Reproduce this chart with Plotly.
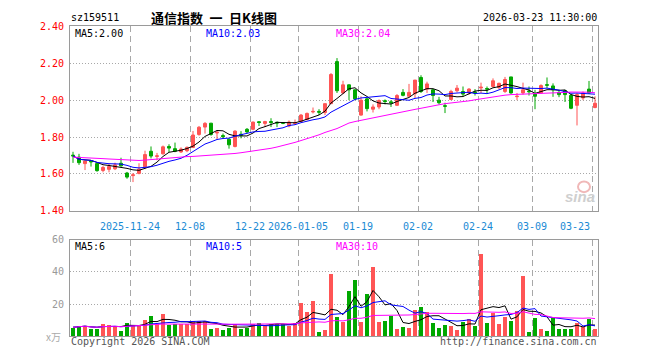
import pandas as pd
import plotly.graph_objects as go

# ---------------- data ----------------
holidays = ["2026-01-01", "2026-01-02", "2026-02-16", "2026-02-17", "2026-02-18",
            "2026-02-19", "2026-02-20", "2026-02-23"]
dates = [d.strftime("%Y-%m-%d") for d in pd.bdate_range("2025-11-10", "2026-03-23")
         if d.strftime("%Y-%m-%d") not in holidays]

opens = [1.702, 1.691, 1.656, 1.670, 1.656, 1.619, 1.625, 1.628, 1.658, 1.605,
         1.591, 1.603, 1.639, 1.723, 1.695, 1.709, 1.749, 1.737, 1.719, 1.726,
         1.744, 1.814, 1.854, 1.875, 1.822, 1.808, 1.788, 1.749, 1.815, 1.842,
         1.842, 1.883, 1.874, 1.884, 1.880, 1.877, 1.860, 1.874, 1.884, 1.895,
         1.936, 1.939, 1.933, 1.981, 2.209, 2.039, 2.083, 2.056, 1.919, 2.007,
         1.951, 1.963, 1.997, 1.991, 1.972, 2.042, 2.021, 2.035, 2.123, 2.060,
         2.056, 2.000, 1.970, 2.004, 2.051, 2.047, 2.039, 2.044, 2.066, 2.063,
         2.074, 2.068, 2.047, 2.126, 2.019, 2.039, 2.049, 2.033, 2.039, 2.084,
         2.077, 2.042, 2.051, 2.026, 1.972, 2.012, 2.060, 1.960]
highs = [1.720, 1.709, 1.670, 1.675, 1.661, 1.644, 1.656, 1.661, 1.688, 1.611,
         1.605, 1.658, 1.726, 1.749, 1.714, 1.754, 1.761, 1.770, 1.744, 1.749,
         1.833, 1.860, 1.881, 1.877, 1.837, 1.819, 1.793, 1.837, 1.832, 1.849,
         1.884, 1.886, 1.888, 1.902, 1.884, 1.879, 1.890, 1.895, 1.925, 1.933,
         1.960, 1.951, 1.981, 2.147, 2.228, 2.105, 2.085, 2.058, 2.021, 2.012,
         1.977, 2.004, 2.004, 2.000, 2.033, 2.060, 2.088, 2.109, 2.135, 2.100,
         2.060, 2.018, 1.986, 2.056, 2.082, 2.074, 2.065, 2.060, 2.095, 2.074,
         2.118, 2.095, 2.126, 2.126, 2.039, 2.095, 2.074, 2.056, 2.086, 2.123,
         2.091, 2.056, 2.056, 2.033, 2.039, 2.047, 2.104, 2.021]
lows = [1.660, 1.649, 1.621, 1.640, 1.612, 1.609, 1.609, 1.621, 1.639, 1.574,
        1.556, 1.598, 1.626, 1.684, 1.674, 1.705, 1.719, 1.718, 1.714, 1.718,
        1.740, 1.807, 1.819, 1.807, 1.789, 1.793, 1.737, 1.744, 1.793, 1.819,
        1.837, 1.860, 1.854, 1.854, 1.854, 1.870, 1.853, 1.867, 1.880, 1.891,
        1.928, 1.919, 1.919, 1.981, 2.039, 2.033, 2.000, 2.000, 1.916, 1.939,
        1.933, 1.951, 1.977, 1.963, 1.968, 2.021, 2.021, 2.012, 2.039, 2.039,
        1.990, 1.977, 1.930, 2.000, 2.042, 2.021, 2.030, 2.025, 2.039, 2.035,
        2.068, 2.060, 2.039, 2.035, 2.000, 2.030, 2.025, 1.951, 2.035, 2.065,
        2.018, 2.016, 1.990, 1.951, 1.863, 2.000, 2.035, 1.956]
closes = [1.698, 1.661, 1.670, 1.666, 1.618, 1.635, 1.640, 1.649, 1.644, 1.583,
          1.595, 1.626, 1.705, 1.697, 1.698, 1.747, 1.740, 1.723, 1.735, 1.744,
          1.811, 1.853, 1.874, 1.814, 1.826, 1.802, 1.758, 1.832, 1.810, 1.828,
          1.881, 1.879, 1.884, 1.879, 1.876, 1.875, 1.881, 1.877, 1.919, 1.928,
          1.939, 1.935, 1.981, 2.139, 2.051, 2.083, 2.056, 2.007, 2.000, 1.954,
          1.963, 1.998, 1.993, 1.986, 2.025, 2.026, 2.042, 2.109, 2.047, 2.088,
          2.025, 1.986, 1.967, 2.047, 2.065, 2.033, 2.060, 2.040, 2.070, 2.060,
          2.105, 2.091, 2.112, 2.039, 2.021, 2.056, 2.046, 2.021, 2.079, 2.081,
          2.056, 2.030, 2.030, 1.956, 2.030, 2.039, 2.039, 1.983]
# MA30 of price as drawn on the chart (needs history before the window)
ma30_price = [1.691, 1.690, 1.688, 1.686, 1.685, 1.683, 1.681, 1.679, 1.677, 1.674,
              1.672, 1.673, 1.675, 1.678, 1.683, 1.686, 1.688, 1.690, 1.692, 1.694,
              1.695, 1.697, 1.698, 1.700, 1.702, 1.705, 1.708, 1.711, 1.715, 1.719,
              1.723, 1.728, 1.733, 1.739, 1.746, 1.753, 1.761, 1.771, 1.781, 1.790,
              1.800, 1.812, 1.825, 1.835, 1.846, 1.861, 1.876, 1.884, 1.891, 1.898,
              1.905, 1.912, 1.918, 1.925, 1.931, 1.938, 1.944, 1.950, 1.956, 1.961,
              1.968, 1.975, 1.981, 1.984, 1.988, 1.991, 1.996, 2.002, 2.007, 2.014,
              2.021, 2.024, 2.027, 2.030, 2.031, 2.032, 2.033, 2.034, 2.034, 2.035,
              2.037, 2.040, 2.042, 2.044, 2.045, 2.046, 2.043, 2.040]
volumes = [5.6, 6.6, 6.6, 4.6, 4.6, 8.0, 7.2, 6.6, 3.8, 8.6,
           7.2, 7.2, 10.4, 12.8, 8.0, 14.0, 7.0, 8.0, 8.0, 8.0,
           9.6, 9.6, 9.6, 5.0, 5.6, 4.4, 5.6, 8.0, 5.0, 5.6,
           8.0, 8.6, 6.4, 8.0, 7.6, 7.6, 6.6, 8.6, 21.2, 15.2,
           22.4, 3.2, 4.4, 38.6, 12.2, 8.8, 28.4, 35.0, 8.8, 26.6,
           43.4, 8.8, 9.8, 13.0, 5.0, 6.2, 5.6, 16.4, 18.2, 15.0,
           8.6, 5.6, 7.4, 6.8, 4.4, 9.2, 10.8, 6.8, 51.2, 8.6,
           14.6, 8.0, 12.2, 9.8, 15.8, 37.4, 2.6, 11.6, 5.0, 3.8,
           11.6, 4.6, 5.0, 4.6, 8.6, 6.2, 10.8, 4.6]

tick_dates = ["2025-11-24", "2025-12-08", "2025-12-22", "2026-01-05", "2026-01-19",
              "2026-02-02", "2026-02-24", "2026-03-09", "2026-03-23"]
tick_labels = ["2025-11-24", "12-08", "12-22", "2026-01-05", "01-19",
               "02-02", "02-24", "03-09", "03-23"]
price_ticks = [1.40, 1.60, 1.80, 2.00, 2.20, 2.40]
vol_ticks = [20, 40, 60]

code = "sz159511"
title = "通信指数\u2002一\u2002日K线图"
stamp = "2026-03-23 11:30:00"
price_ma_text = ["MA5:2.00", "MA10:2.03", "MA30:2.04"]
vol_ma_text = ["MA5:6", "MA10:5", "MA30:10"]

# ---------------- derived ----------------
n = len(dates)
x = list(range(n))
cs = pd.Series(closes)
ma5 = cs.rolling(5, min_periods=1).mean()
ma10 = cs.rolling(10, min_periods=1).mean()
vs = pd.Series(volumes)
vma5 = vs.rolling(5, min_periods=1).mean()
vma10 = vs.rolling(10, min_periods=1).mean()
vma30 = vs.rolling(30, min_periods=1).mean()

RED = "#ff5555"
GREEN = "#00a800"
MONO = "DejaVu Sans Mono"
GRID = "#a8a8a8"
FRAME = "#9a9a9a"
vol_colors = [RED if c >= o else GREEN for o, c in zip(opens, closes)]

W, H = 660, 360
def px(v):
    return v / W
def py(v):
    return 1 - v / H

tickpos = [dates.index(d) - 0.5 for d in tick_dates]

fig = go.Figure()
fig.add_trace(go.Candlestick(
    x=x, open=opens, high=highs, low=lows, close=closes,
    increasing=dict(line=dict(color=RED, width=1), fillcolor=RED),
    decreasing=dict(line=dict(color=GREEN, width=1), fillcolor=GREEN),
    whiskerwidth=0, xaxis="x", yaxis="y", showlegend=False, hoverinfo="skip"))
for ser, col in [(ma5, "#000000"), (ma10, "#0000ff"), (ma30_price, "#ff00ff")]:
    fig.add_trace(go.Scatter(x=x, y=list(ser), mode="lines", line=dict(color=col, width=1),
                             xaxis="x", yaxis="y", showlegend=False, hoverinfo="skip"))

fig.add_trace(go.Bar(x=x, y=volumes, marker=dict(color=vol_colors, line=dict(width=0)),
                     width=0.83, xaxis="x2", yaxis="y2", showlegend=False, hoverinfo="skip"))
for ser, col in [(vma5, "#000000"), (vma10, "#0000ff"), (vma30, "#ff00ff")]:
    fig.add_trace(go.Scatter(x=x, y=list(ser), mode="lines", line=dict(color=col, width=1),
                             xaxis="x2", yaxis="y2", showlegend=False, hoverinfo="skip"))

xdom = [px(70), px(598)]
common_x = dict(domain=xdom, range=[-0.5, n - 0.5], tickvals=tickpos,
                showgrid=True, gridcolor=GRID, griddash="6px,4px", gridwidth=1,
                showline=True, mirror=True, linecolor=FRAME, linewidth=1,
                zeroline=False, ticks="", fixedrange=True)
fig.update_layout(
    width=W, height=H, margin=dict(l=0, r=0, t=0, b=0),
    paper_bgcolor="white", plot_bgcolor="white", showlegend=False, bargap=0,
    xaxis=dict(common_x, anchor="y", ticktext=tick_labels[:-1] + [""],
               tickfont=dict(family=MONO, size=10, color="#1a8ad4"),
               ticklabelstandoff=6, rangeslider=dict(visible=False)),
    yaxis=dict(domain=[py(211.3), py(21)], range=[1.40, 2.40], tickvals=price_ticks,
               ticktext=["%.2f" % t for t in price_ticks],
               tickfont=dict(family=MONO, size=10, color="#ff0000"),
               showgrid=True, gridcolor=GRID, griddash="1px,2px", gridwidth=1,
               showline=True, mirror=True, linecolor=FRAME, linewidth=1,
               zeroline=False, ticks="", ticklabelstandoff=3, fixedrange=True),
    xaxis2=dict(common_x, anchor="y2", showticklabels=False),
    yaxis2=dict(domain=[py(340.7), py(241)], range=[0, 60], tickvals=vol_ticks,
                ticktext=[str(t) for t in vol_ticks],
                tickfont=dict(family=MONO, size=10, color="#999999"),
                showgrid=True, gridcolor=GRID, griddash="1px,2px", gridwidth=1,
                showline=True, mirror=True, linecolor=FRAME, linewidth=1,
                zeroline=False, ticks="", ticklabelstandoff=3, fixedrange=True),
)

ann = []
def text(t, xp, yp, anchor="left", color="#000", size=10, family=MONO, **kw):
    ann.append(dict(text=t, x=px(xp), y=py(yp), xref="paper", yref="paper",
                    xanchor=anchor, yanchor="middle", showarrow=False,
                    font=dict(family=family, size=size, color=color), **kw))

text(code, 69, 12)
text("<b>" + title + "</b>", 214, 12, anchor="center", size=13, family="Noto Sans CJK SC")
text(stamp, 599, 12, anchor="right")
ma_cols = ["#000000", "#0000ff", "#ff00ff"]
for t, xp, c in zip(price_ma_text, [73, 204, 334], ma_cols):
    text(t, xp, 28, color=c)
for t, xp, c in zip(vol_ma_text, [73, 204, 334], ma_cols):
    text(t, xp, 248, color=c)
# last date label kept inside the frame
ann.append(dict(text=tick_labels[-1], x=tickpos[-1], xref="x", y=py(227), yref="paper",
                xanchor="right", yanchor="middle", showarrow=False,
                font=dict(family=MONO, size=10, color="#1a8ad4")))
text("x万", 63, 341, anchor="right", color="#aaaaaa", size=10, family="Noto Sans CJK SC")
text("Copyright 2026 SINA.COM", 69, 346, color="#555555")
text("http://finance.sina.com.cn", 599, 346, anchor="right", color="#555555")
text("<b><i>sina</i></b>", 597, 196, anchor="right", color="#cfcfcf", size=15,
     family="Liberation Sans")
fig.update_layout(annotations=ann)
fig.add_shape(type="circle", xref="paper", yref="paper",
              x0=px(578), x1=px(590), y0=py(192), y1=py(181),
              line=dict(color="#f0b8b8", width=2))

fig.write_html(
    "out.html",
    config={"displayModeBar": False, "responsive": False},
    post_script=("document.documentElement.style.margin='0px';"
                 "document.body.style.margin='0px';"
                 "document.body.style.padding='0px';"
                 "document.documentElement.style.overflow='hidden';"
                 "document.body.style.overflow='hidden';"),
)
